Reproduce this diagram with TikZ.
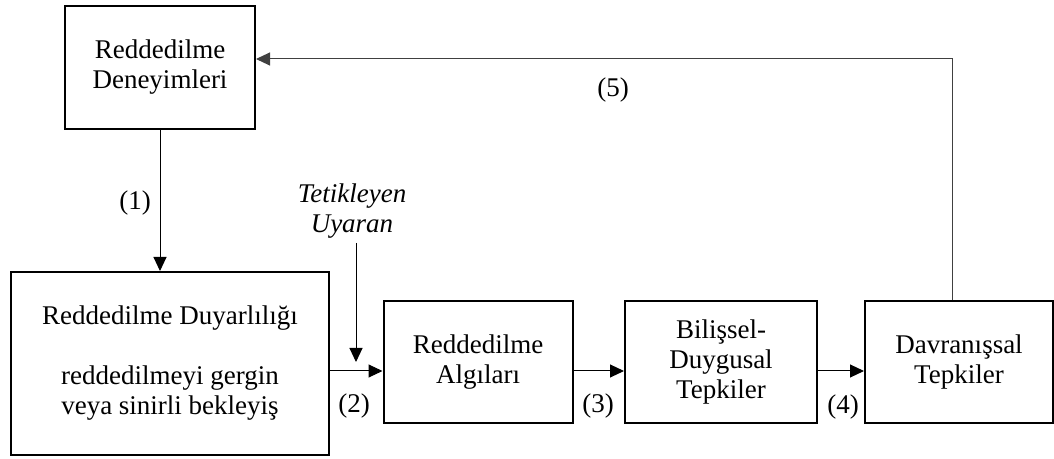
\documentclass[tikz,border=0pt]{standalone}
\usepackage{fontspec}
\setmainfont{Liberation Serif}
\usetikzlibrary{arrows.meta}
\begin{document}
\begin{tikzpicture}[x=0.5pt,y=-0.5pt,
  txt/.style={font=\fontsize{13.5}{15}\selectfont, align=center, inner sep=0pt},
  boxn/.style={txt, draw, line width=1pt},
  arr/.style={line width=0.5pt, -{Triangle[length=7pt,width=6.5pt]}},
  lbl/.style={txt}]
\useasboundingbox (0,0) rectangle (1054,459);
\node[boxn, minimum width=95pt, minimum height=61.5pt] (b1) at (160,67.5) {Reddedilme\\Deneyimleri};
\node[boxn, minimum width=159pt, minimum height=91.5pt] (b2) at (170,363.5) {Reddedilme Duyarlılığı\\[15pt]reddedilmeyi gergin\\veya sinirli bekleyiş};
\node[boxn, minimum width=94.5pt, minimum height=61pt] (b3) at (478,362) {Reddedilme\\Algıları};
\node[boxn, minimum width=96pt, minimum height=61pt] (b4) at (721,362) {Bilişsel-\\Duygusal\\Tepkiler};
\node[boxn, minimum width=94pt, minimum height=61pt] (b5) at (959,362) {Davranışsal\\Tepkiler};
\node[txt, font=\fontsize{13.5}{15}\selectfont\itshape] (trig) at (352,211) {Tetikleyen\\Uyaran};
\coordinate (ay) at (0,371);
\coordinate (ts) at (356,243);
\coordinate (te) at (356,362);
\coordinate (fb) at (952,59);
\draw[arr] (b1.south) -- (b1.south |- b2.north);
\draw[arr] (b2.east |- ay) -- (b3.west |- ay);
\draw[arr] (b3.east |- ay) -- (b4.west |- ay);
\draw[arr] (b4.east |- ay) -- (b5.west |- ay);
\draw[arr] (ts) -- (te);
\draw[arr, draw=black!75] (b5.north -| fb) -- (fb) -- (b1.east |- fb);
\node[lbl] (l1) at (135,203) {(1)};
\node[lbl] (l2) at (354,406) {(2)};
\node[lbl] (l3) at (598,406) {(3)};
\node[lbl] (l4) at (843,407) {(4)};
\node[lbl] (l5) at (613,90) {(5)};
\end{tikzpicture}
\end{document}
